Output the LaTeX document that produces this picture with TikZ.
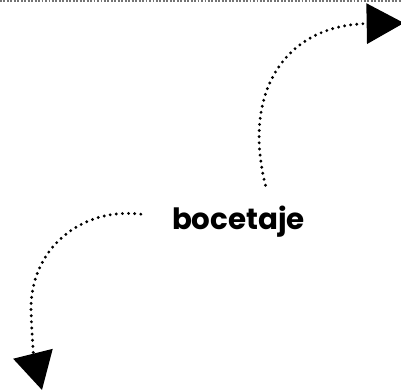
\documentclass[tikz,border=0pt]{standalone}
\usepackage{fontspec}
\setmainfont{Poppins}
\usetikzlibrary{arrows.meta,calc}

\begin{document}
\begin{tikzpicture}[x=0.75pt,y=-0.75pt]
\tikzset{
  sketchtext/.style={inner sep=0pt,font=\fontsize{22}{26}\selectfont\bfseries},
  dottedpath/.style={draw=black,line width=2.4pt,line cap=round,dash pattern=on 0pt off 4.6pt},
  dottedarrow/.style={dottedpath,-{Triangle[length=28pt,width=30pt]}},
  topedge/.style={draw=black!55,line width=0.8pt,dash pattern=on 1.4pt off 1.2pt}
}
\useasboundingbox (0,0) rectangle (401,391);
\draw[topedge] (0,1) -- (401,1);
\node[sketchtext,anchor=base] (bocetaje) at (238.5,230) {bocetaje};
\coordinate (upper_tip) at (404,23);
\coordinate (lower_tip) at (42,390);
\draw[dottedarrow] ($(bocetaje.north)+(27,-21)$) .. controls (242,92) and (285,25) .. (upper_tip);
\draw[dottedarrow] ($(bocetaje.west)+(-31,-8)$) .. controls (80,207) and (30,250) .. (31,310)
  .. controls (32,340) and (34,358) .. (lower_tip);
\end{tikzpicture}
\end{document}
